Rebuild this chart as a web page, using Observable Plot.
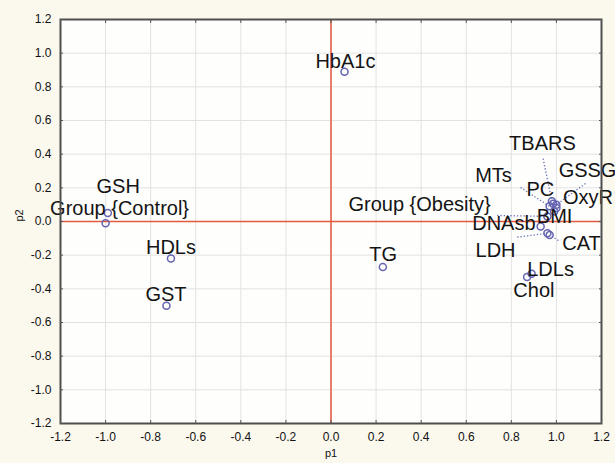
<!DOCTYPE html>
<html>
<head>
<meta charset="utf-8">
<script src="https://cdn.jsdelivr.net/npm/d3@7"></script>
<script src="https://cdn.jsdelivr.net/npm/@observablehq/plot@0.6"></script>
<style>
  html, body { margin: 0; padding: 0; background: #fbf8ee; }
  #chart { width: 615px; height: 463px; }
</style>
</head>
<body>
<div id="chart"></div>
<script>
// Variable names
const names = ["HbA1c", "GSH", "Group {Control}", "HDLs", "GST", "TG",
  "TBARS", "GSSG", "MTs", "PC", "OxyR", "BMI", "Group {Obesity}",
  "DNAsb", "LDH", "CAT", "LDLs", "Chol"];
// Coordinates on factor 1 (p1) and factor 2 (p2)
const p1 = [0.06, -0.99, -1.00, -0.71, -0.73, 0.23,
  0.98, 1.00, 0.97, 0.985, 1.00, 0.99, 0.96,
  0.93, 0.96, 0.97, 0.89, 0.87];
const p2 = [0.89, 0.05, -0.01, -0.22, -0.50, -0.27,
  0.12, 0.10, 0.09, 0.105, 0.08, 0.06, 0.03,
  -0.03, -0.07, -0.08, -0.31, -0.33];
// Label anchor positions (data units)
const labelP1 = [0.064, -0.944, -0.938, -0.710, -0.732, 0.231,
  0.938, 1.138, 0.721, 0.929, 1.140, 0.992, 0.393,
  0.767, 0.730, 1.111, 0.974, 0.900];
const labelP2 = [0.909, 0.168, 0.040, -0.196, -0.474, -0.236,
  0.422, 0.263, 0.234, 0.154, 0.105, -0.010, 0.065,
  -0.053, -0.212, -0.172, -0.321, -0.450];
// Leader line start points (data units), null = no leader
const leaderP1 = [null, null, null, null, null, null,
  0.941, 1.129, 0.841, null, null, null, 0.737,
  null, 0.826, 1.009, null, null];
const leaderP2 = [null, null, null, null, null, null,
  0.374, 0.226, 0.202, null, null, null, 0.036,
  null, -0.093, -0.113, null, null];
// Axis ticks
const ticks = [-1.2, -1.0, -0.8, -0.6, -0.4, -0.2, 0, 0.2, 0.4, 0.6, 0.8, 1.0, 1.2];

const rows = names.map((n, i) => ({
  name: n, x: p1[i], y: p2[i], lx: labelP1[i], ly: labelP2[i],
  ex: leaderP1[i], ey: leaderP2[i]
}));
const leaders = rows.filter(d => d.ex != null);
const fmt = d => d.toFixed(1);

const chart = Plot.plot({
  width: 615,
  height: 463,
  marginLeft: 60,
  marginRight: 14,
  marginTop: 19,
  marginBottom: 40,
  x: { domain: [-1.2, 1.2] },
  y: { domain: [-1.2, 1.2] },
  style: { background: "transparent", fontFamily: "'Liberation Sans', Arial, sans-serif", overflow: "visible" },
  marks: [
    Plot.frame({ fill: "#fefefd" }),
    Plot.gridX(ticks, { stroke: "#e2e2e2", strokeOpacity: 1 }),
    Plot.gridY(ticks, { stroke: "#e2e2e2", strokeOpacity: 1 }),
    Plot.ruleX([0], { stroke: "#e4583f", strokeWidth: 1.5 }),
    Plot.ruleY([0], { stroke: "#e4583f", strokeWidth: 1.5 }),
    Plot.link(leaders, { x1: "ex", y1: "ey", x2: "x", y2: "y", stroke: "#6670b8", strokeWidth: 1.3, strokeDasharray: "1.3,2" }),
    Plot.dot(rows, { x: "x", y: "y", r: 3.5, stroke: "#6464b0", strokeWidth: 1.5 }),
    Plot.text(rows, { x: "lx", y: "ly", text: "name", fontSize: 20, lineAnchor: "bottom", fill: "#141414" }),
    Plot.frame({ stroke: "#4e4e4e", strokeWidth: 2 }),
    Plot.axisX(ticks, { anchor: "bottom", tickSize: 0, tickPadding: 9, tickFormat: fmt, fontSize: 12, fill: "#111", label: null }),
    Plot.axisY(ticks, { anchor: "left", tickSize: 0, tickPadding: 9, tickFormat: fmt, fontSize: 12, fill: "#111", label: null }),
    Plot.axisX(ticks, { anchor: "bottom", tickSize: -3, tickFormat: () => "", stroke: "#555", label: null }),
    Plot.axisX(ticks, { anchor: "top", tickSize: -3, tickFormat: () => "", stroke: "#555", label: null }),
    Plot.axisY(ticks, { anchor: "left", tickSize: -3, tickFormat: () => "", stroke: "#555", label: null }),
    Plot.axisY(ticks, { anchor: "right", tickSize: -3, tickFormat: () => "", stroke: "#555", label: null }),
    Plot.text(["p1"], { frameAnchor: "bottom", dy: 33, fontSize: 11, fill: "#111" }),
    Plot.text(["p2"], { frameAnchor: "left", dx: -41, rotate: -90, fontSize: 11, fill: "#111" })
  ]
});
document.getElementById("chart").append(chart);
</script>
</body>
</html>
